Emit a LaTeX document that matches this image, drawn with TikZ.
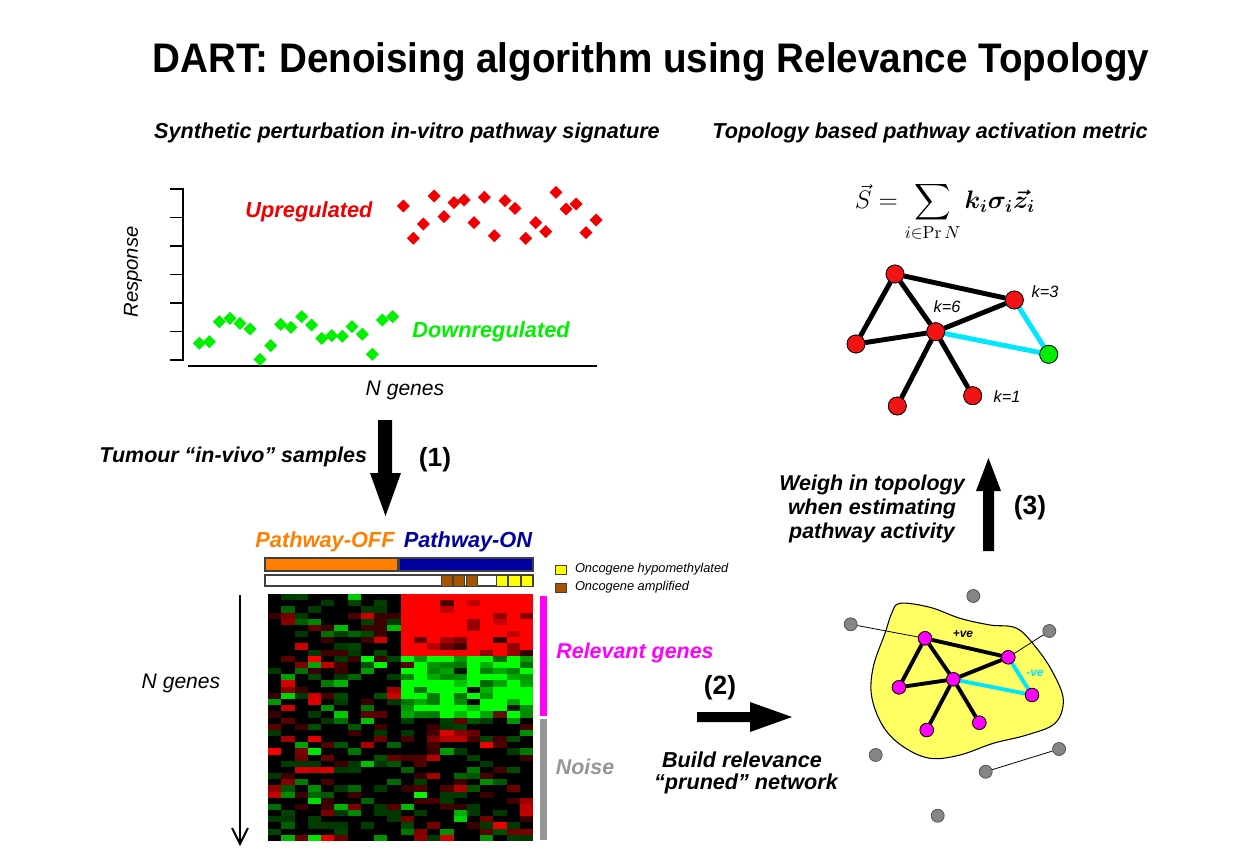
\documentclass[tikz,border=0pt]{standalone}
\usepackage[no-math]{fontspec}
\setmainfont{Liberation Sans}
\usepackage{amsmath}
\usepackage{bm}
\usetikzlibrary{arrows.meta}
\definecolor{upred}{RGB}{240,0,0}
\definecolor{nodered}{RGB}{240,20,20}
\definecolor{dngreen}{RGB}{0,240,0}
\definecolor{offorange}{RGB}{255,128,0}
\definecolor{onblue}{RGB}{0,0,160}
\definecolor{amp}{RGB}{165,85,0}
\definecolor{yel}{RGB}{255,255,0}
\definecolor{blob}{RGB}{255,255,100}
\definecolor{mag}{RGB}{255,0,255}
\definecolor{noisegrey}{RGB}{150,150,150}
\definecolor{edgecyan}{RGB}{0,230,255}
\newcommand\fsz[1]{\fontsize{#1}{#1}\selectfont}
\begin{document}
\begin{tikzpicture}[x=0.02cm,y=-0.02cm,
  txt/.style={inner sep=0pt,outer sep=0pt,font=\bfseries\itshape\fsz{12.3pt}},
  rnode/.style={circle,draw=black,line width=0.4pt,fill=nodered,inner sep=0pt,minimum size=0.36cm},
  gnode/.style={rnode,fill=dngreen},
  mnode/.style={circle,draw=black,line width=0.4pt,fill=mag,inner sep=0pt,minimum size=0.27cm},
  greynode/.style={circle,draw=black!70,line width=0.4pt,fill=black!48,inner sep=0pt,minimum size=0.26cm},
  thick edge/.style={line width=2.8pt,black},
  cyan edge/.style={line width=2.8pt,edgecyan},
  thin link/.style={line width=0.45pt,black},
  blockarrow/.style={fill=black,draw=none}]
\useasboundingbox (0,0) rectangle (1245,865);
\fill[white] (0,0) rectangle (1245,865);

% titles
\node[txt,font=\bfseries\fsz{23.5pt},xscale=0.935] (title) at (651,62) {DART: Denoising algorithm using Relevance Topology};
\node[txt] (sub1) at (407,133) {Synthetic perturbation in-vitro pathway signature};
\node[txt] (sub2) at (930,133) {Topology based pathway activation metric};

% scatter plot axes
\draw[line width=1pt] (183,188) -- (183,361);
\foreach \t in {189,217.5,246,274.5,303,331.5,360}{\draw[line width=1pt] (170,\t) -- (183,\t);}
\draw[line width=1.1pt] (188,366) -- (597,366);
\node[txt,font=\itshape\fsz{11.5pt},rotate=90] (resp) at (133,272) {Response};
\node[txt,font=\itshape\fsz{12pt}] (ngx) at (405,390) {N genes};
% diamonds
\foreach \x/\y in {199.3/343.3,209.3/341.7,219.3/321.7,230/318.3,240/323.3,250/329,260/359.3,270.7/345.7,280.7/324.3,291/327.3,301.7/316.7,311.7/325,321.7/338.3,331.7/335.7,342.3/336.3,352/326.7,362.3/334.3,372.3/354.3,382.3/320,392.7/316.7}
  {\fill[dngreen] (\x,\y-6.5) -- (\x+6.5,\y) -- (\x,\y+6.5) -- (\x-6.5,\y) -- cycle;}
\foreach \x/\y in {403.3/206,413.3/238.3,423.3/224,434/196,444/216.7,454/202.7,464/200,474/222.7,484.3/197.3,494.3/235.7,505/200.7,515/208.3,525.7/238.3,535.7/222.7,545.7/231.7,556/192.3,566/209,576/204,586/232.7,596/220}
  {\fill[upred] (\x,\y-6.5) -- (\x+6.5,\y) -- (\x,\y+6.5) -- (\x-6.5,\y) -- cycle;}
\node[txt,font=\bfseries\itshape\fsz{12.4pt},text=upred] (up) at (309,212) {Upregulated};
\node[txt,font=\bfseries\itshape\fsz{12.4pt},text=dngreen] (down) at (491,332) {Downregulated};

% arrow (1)
\fill[blockarrow] (378,420) -- (392,420) -- (392,473) -- (401,473) -- (385.5,516) -- (370,473) -- (378,473) -- cycle;
\node[txt,font=\bfseries\itshape\fsz{12.2pt},anchor=east] (tumour) at (367,457) {Tumour “in-vivo” samples};
\node[txt,font=\bfseries\fsz{15pt}] (one) at (435,460) {(1)};

% pathway labels and bars
\node[txt,font=\bfseries\itshape\fsz{12.4pt},text=offorange] (poff) at (325,542) {Pathway-OFF};
\node[txt,font=\bfseries\itshape\fsz{12.4pt},text=onblue] (pon) at (468,542) {Pathway-ON};
\draw[fill=offorange,draw=black!75,line width=0.6pt] (265,558) rectangle (398,571);
\draw[fill=onblue,draw=black!75,line width=0.6pt] (399,558) rectangle (533,571);
\draw[fill=white,draw=black!75,line width=0.6pt] (265,575) rectangle (533,586);
\foreach \a/\b in {441.7/452.3,453.3/464.7,466/477.3}{\draw[fill=amp,draw=black!75,line width=0.5pt] (\a,575) rectangle (\b,586);}
\foreach \a/\b in {496.7/507.7,508.7/520,521/532.7}{\draw[fill=yel,draw=black!75,line width=0.5pt] (\a,575) rectangle (\b,586);}
\draw[fill=yel,draw=black!75,line width=0.5pt] (555,565.5) rectangle (566,574.5);
\draw[fill=amp,draw=black!75,line width=0.5pt] (555,583) rectangle (566,592);
\node[txt,font=\itshape\fsz{7.3pt},anchor=west] (leg1) at (575,569) {Oncogene hypomethylated};
\node[txt,font=\itshape\fsz{7.3pt},anchor=west] (leg2) at (575,587) {Oncogene amplified};

% heatmap
\pgfmathsetseed{4242}
\foreach \c in {0,...,19}{
  \foreach \r in {0,...,39}{
    \pgfmathsetmacro\u{rnd}
    \pgfmathsetmacro\v{rnd}
    \pgfmathsetmacro\I{0.22+0.78*\v*\v*\v}
    \pgfmathtruncatemacro\reg{(\c>9)*((\r<10)*1+(\r>9)*(\r<20)*2)}
    \ifcase\reg
      \pgfmathsetmacro\R{(\u>0.5)*(\u<0.75)*\I}
      \pgfmathsetmacro\G{(\u>=0.75)*\I}
    \or
      \pgfmathsetmacro\R{(\u<0.8)+(\u>=0.8)*(0.2+0.6*\v)}
      \def\G{0}
    \or
      \pgfmathsetmacro\G{(\u<0.42)+(\u>=0.42)*(\u<0.93)*(0.4+0.4*\v)+(\u>=0.93)*0.1*\v}
      \pgfmathsetmacro\R{(\u>=0.97)*0.35}
    \fi
    \definecolor{hc}{rgb}{\R,\G,0}
    \fill[hc] ({268+\c*13.25},{594+\r*6.175}) rectangle ++(13.6,6.5);
  }
}
\fill[white] (268,841) rectangle (540,850);
\fill[mag] (539.5,595.5) rectangle (546.5,716);
\fill[noisegrey] (539.5,718.5) rectangle (546.5,839.5);
\node[txt,font=\bfseries\itshape\fsz{12.2pt},text=mag] (relev) at (635,653) {Relevant genes};
\node[txt,font=\bfseries\itshape\fsz{12.2pt},text=noisegrey] (noise) at (585,767) {Noise};
\node[txt,font=\itshape\fsz{12pt}] (ngy) at (181,683) {N genes};
\coordinate (ngtop) at (240,595);
\coordinate (ngbot) at (240,846);
\draw[line width=1.1pt,-{Straight Barb[length=9pt,width=9pt]}] (ngtop) -- (ngbot);

% arrow (2)
\fill[blockarrow] (697,712) -- (750,712) -- (750,702) -- (792,717) -- (750,732) -- (750,722) -- (697,722) -- cycle;
\node[txt,font=\bfseries\fsz{15pt}] (two) at (720,688) {(2)};
\node[txt,font=\bfseries\itshape\fsz{12.3pt}] (build1) at (742,760) {Build relevance};
\node[txt,font=\bfseries\itshape\fsz{12.3pt}] (build2) at (746,784) {“pruned” network};

% arrow (3)
\fill[blockarrow] (983,551) -- (994,551) -- (994,491) -- (1001,491) -- (988.5,458) -- (976,491) -- (983,491) -- cycle;
\node[txt,font=\bfseries\fsz{15pt}] (three) at (1030,508) {(3)};
\node[txt,font=\bfseries\itshape\fsz{12.2pt}] (weigh1) at (872,485) {Weigh in topology};
\node[txt,font=\bfseries\itshape\fsz{12.2pt}] (weigh2) at (872,509) {when estimating};
\node[txt,font=\bfseries\itshape\fsz{12.2pt}] (weigh3) at (872,533) {pathway activity};

% formula
\node[inner sep=0pt,font=\fsz{14.5pt}] (formula) at (945,212) {$\displaystyle \vec{S} = \sum_{i\in \Pr N} \bm{k_i\sigma_i\vec{z}_i}$};

% top network
\node[rnode] (A) at (895,274) {};
\node[rnode] (B) at (1014.3,300) {};
\node[rnode] (C) at (935.7,331.7) {};
\node[rnode] (D) at (856,344) {};
\node[gnode] (E) at (1048.7,354.3) {};
\node[rnode] (F) at (897.3,406) {};
\node[rnode] (G) at (972.7,395.7) {};
\draw[thick edge] (A) -- (B) (A) -- (D) (A) -- (C) (D) -- (C) (C) -- (B) (C) -- (F) (C) -- (G);
\draw[cyan edge] (C) -- (E) (B) -- (E);
\foreach \n in {A,B,C,D,F,G}{\node[rnode] at (\n) {};}
\node[gnode] at (E) {};
\node[txt,font=\itshape\fsz{9.3pt}] (k6) at (947,307) {k=6};
\node[txt,font=\itshape\fsz{9.3pt}] (k3) at (1045,292) {k=3};
\node[txt,font=\itshape\fsz{9.3pt}] (k1) at (1007,397) {k=1};

% bottom network
\draw[fill=blob,draw=black,line width=0.6pt] plot[smooth cycle,tension=0.6] coordinates {(900,603.3) (930,607.3) (960,618.3) (990,625) (1016.7,628.3) (1036.7,648.3) (1053.3,673.3) (1063.3,700) (1055,723.3) (1026.7,735) (993.3,743.3) (960,755) (930,758.3) (903.3,746.7) (883.3,726.7) (871.7,696.7) (873.3,666.7) (885,633.3) (891.7,613.3)};
\node[mnode] (P1) at (925,638.3) {};
\node[mnode] (P2) at (1008.3,657.3) {};
\node[mnode] (P3) at (953.3,679.3) {};
\node[mnode] (P4) at (899,687.3) {};
\node[mnode] (P5) at (1032,695) {};
\node[mnode] (P6) at (926.7,730) {};
\node[mnode] (P7) at (979.3,722.7) {};
\node[greynode] (G1) at (850.7,624.3) {};
\node[greynode] (G2) at (973.3,596) {};
\node[greynode] (G3) at (1049.3,631) {};
\node[greynode] (G4) at (875.7,755) {};
\node[greynode] (G5) at (985.7,771.7) {};
\node[greynode] (G6) at (1059,749) {};
\node[greynode] (G7) at (937.7,815.7) {};
\draw[thin link] (G1) -- (P1) (G3) -- (P2) (G5) -- (G6);
\draw[line width=2.2pt] (P1) -- (P2) (P1) -- (P4) (P1) -- (P3) (P4) -- (P3) (P3) -- (P2) (P3) -- (P6) (P3) -- (P7);
\draw[line width=2.2pt,edgecyan] (P3) -- (P5) (P2) -- (P5);
\foreach \n in {P1,P2,P3,P4,P5,P6,P7}{\node[mnode] at (\n) {};}
\node[txt,font=\bfseries\itshape\fsz{6.8pt}] (pve) at (963,634) {+ve};
\node[txt,font=\bfseries\itshape\fsz{6.8pt},text=edgecyan] (nve) at (1035,673.5) {-ve};
\end{tikzpicture}
\end{document}
